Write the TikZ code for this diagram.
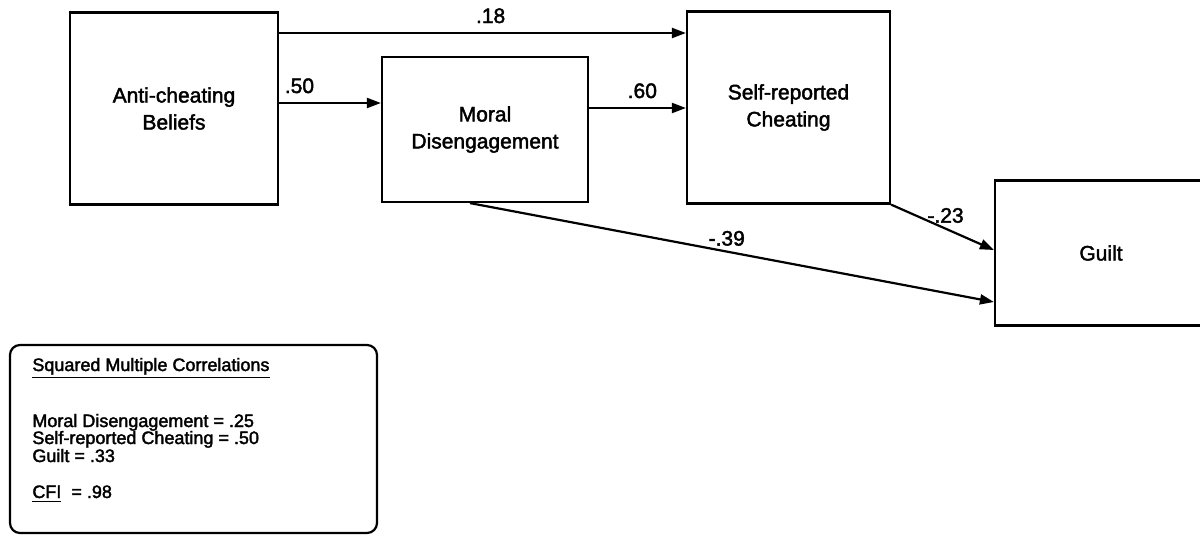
\documentclass[tikz,border=0pt]{standalone}
\usepackage{fontspec}
\setmainfont{Liberation Sans}[FakeBold=2]
\usetikzlibrary{arrows.meta, positioning}

\begin{document}
\begin{tikzpicture}[
  x=0.5pt, y=-0.5pt,
  box/.style={draw, line width=1.1pt, minimum width=103pt, minimum height=96pt,
              align=center, inner sep=0pt, font=\fontsize{10.5}{13.5}\selectfont},
  flat/.style={box, minimum height=72.5pt},
  arr/.style={-{Triangle[length=7pt, width=5pt]}, line width=1.1pt},
  coef/.style={font=\fontsize{10.5}{12}\selectfont},
  legtxt/.style={anchor=base west, inner sep=0pt, font=\fontsize{9}{11}\selectfont}
]
\useasboundingbox (0,0) rectangle (1200,536);

\node[box, minimum width=104pt] (anti) at (174,108.5) {Anti-cheating\\Beliefs};
\node[flat] (moral) at (485,129.5) {Moral\\Disengagement};
\node[box, minimum width=101.5pt] (self) at (788.5,107.5) {Self-reported\\Cheating};
\node[flat, minimum width=106pt] (guilt) at (1101,253) {Guilt};

\draw[arr] (anti.east |- 0,33) -- (self.west |- 0,33)
  node[coef, pos=0.52, above=1pt] {.18};
\draw[arr] (anti.east |- 0,103) -- (moral.west |- 0,103)
  node[coef, pos=0.2, above=1pt] {.50};
\draw[arr] (moral.east |- 0,108) -- (self.west |- 0,108)
  node[coef, pos=0.55, above=1pt] {.60};
\draw[arr] (self.south east) -- ([yshift=1.5pt]guilt.west)
  node[coef, pos=0.53, above=-1pt] {-.23};
\draw[arr] ([xshift=-7.5pt]moral.south) -- ([yshift=-24.5pt]guilt.west)
  node[coef, pos=0.49, above=-1pt] {-.39};

\node[draw, line width=1.1pt, rounded corners=5pt, minimum width=183.5pt,
      minimum height=94pt] (legend) at (193.5,439) {};
\node[legtxt] (sqm) at (32,371) {\underline{Squared Multiple Correlations}};
\node[legtxt] (lmoral) at (32,427) {Moral Disengagement = .25};
\node[legtxt] (lself) at (32,444) {Self-reported Cheating = .50};
\node[legtxt] (lguilt) at (32,462) {Guilt = .33};
\node[legtxt] (lcfi) at (32,498) {\underline{CFI}\ \ = .98};
\end{tikzpicture}
\end{document}
